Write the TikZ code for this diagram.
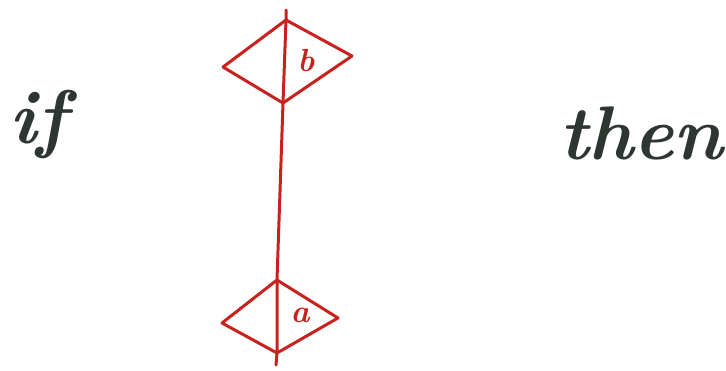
\documentclass[tikz,border=0pt]{standalone}
\usepackage{tikz}
\definecolor{ink}{RGB}{200,34,30}
\definecolor{pencil}{RGB}{46,54,50}
\tikzset{
  stroke/.style={ink, line width=3pt, line join=round, line cap=round},
  word/.style={pencil, font=\fontsize{76}{80}\selectfont\bfseries\itshape},
  tag/.style={ink, font=\fontsize{32}{34}\selectfont\bfseries\itshape}
}
\begin{document}
\begin{tikzpicture}[x=1pt, y=-1pt]
    \useasboundingbox (0,0) rectangle (726,370);
    % words
    \node[word] (ifw) at (38,124) {if};
    \node[word] (thenw) at (641,133) {then};
    % the two diamonds
    \coordinate (tt) at (286,20);
    \coordinate (tl) at (223,67);
    \coordinate (tr) at (352,56);
    \coordinate (tb) at (283,103);
    \coordinate (bt) at (277,280);
    \coordinate (bl) at (222,323);
    \coordinate (br) at (338,318);
    \coordinate (bb) at (277,353);
    \draw[stroke] (tt)--(tr)--(tb)--(tl)--cycle;
    \draw[stroke] (bt)--(br)--(bb)--(bl)--cycle;
    \node[tag] (lb) at (306,61) {b};
    \node[tag] (la) at (300,315) {a};
    % the edge between them
    \coordinate (top) at (286,10);
    \coordinate (bot) at (276,365);
    \draw[stroke] (top)--(tt)--(tb)--(bt)--(bb)--(bot);
\end{tikzpicture}
\end{document}
